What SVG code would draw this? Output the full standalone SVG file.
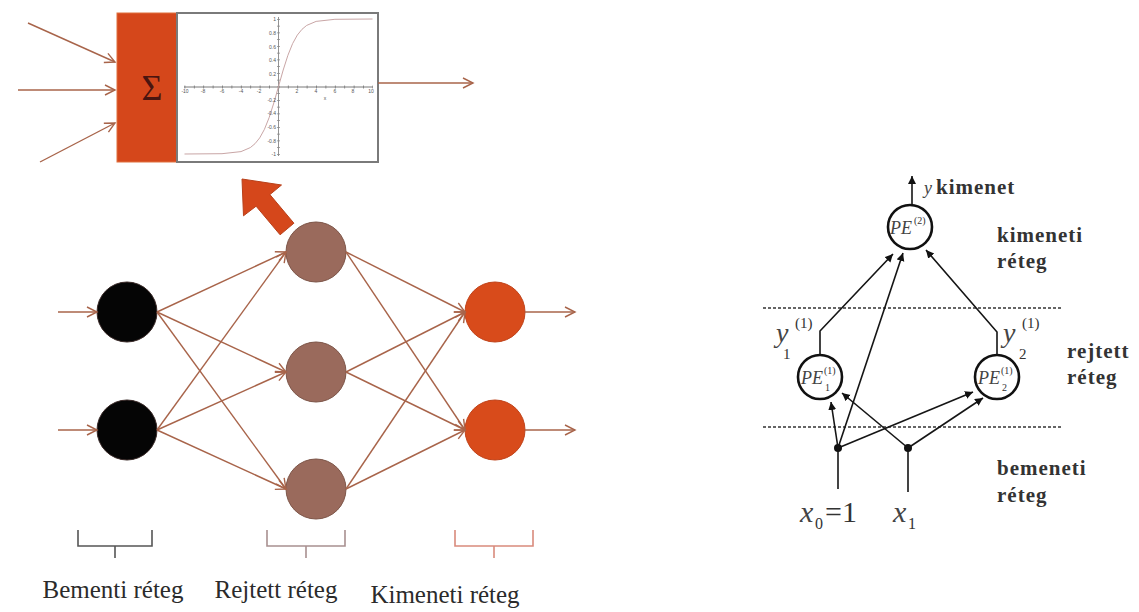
<svg xmlns="http://www.w3.org/2000/svg" width="1139" height="612" viewBox="0 0 1139 612">
  <defs>
    <marker id="open" markerUnits="userSpaceOnUse" markerWidth="14" markerHeight="14" refX="11" refY="6" orient="auto">
      <path d="M1,1 L11,6 L1,11" fill="none" stroke="#a8644a" stroke-width="1.4"/>
    </marker>
    <marker id="tri" markerUnits="userSpaceOnUse" markerWidth="10" markerHeight="10" refX="8" refY="4" orient="auto">
      <path d="M0,0 L8,4 L0,8 Z" fill="#111"/>
    </marker>
    <style>
      .wire { stroke: #a8644a; stroke-width: 1.4; fill: none; marker-end: url(#open); }
      .blk { fill: #050505; stroke: #3a2a28; }
      .hid { fill: #9a6a5c; stroke: #7d5548; }
      .out { fill: #d84b1b; stroke: #c0431a; }
      .bk { fill: none; stroke-width: 1.6; }
      .lbl { font-family: "Liberation Serif", serif; font-size: 25px; fill: #2b2b2b; }
      .tick { font-family: "Liberation Sans", sans-serif; font-size: 5px; fill: #555; }
      .pe { stroke: #111; stroke-width: 2.6; fill: #fff; }
      .ln { stroke: #151515; stroke-width: 1.6; fill: none; }
      .arr { stroke: #151515; stroke-width: 1.6; fill: none; marker-end: url(#tri); }
      .dash { stroke: #333; stroke-width: 1.3; stroke-dasharray: 3 2; }
      .rt { font-family: "Liberation Serif", serif; font-weight: bold; font-size: 21px; fill: #333; letter-spacing: 1px; }
      .it { font-family: "Liberation Serif", serif; font-style: italic; fill: #444; }
      .rm { font-family: "Liberation Serif", serif; fill: #333; }
    </style>
  </defs>

  <rect width="1139" height="612" fill="#fff"/>

  <!-- neuron detail: summation block and activation plot -->
  <g id="neuron-detail">
    <rect x="117" y="13" width="60" height="149" fill="#d5471b" stroke="#e0703f" stroke-width="1"/>
    <text x="152" y="100" text-anchor="middle" font-family="Liberation Serif, serif" font-size="36" fill="#4a1510">Σ</text>
    <rect x="177" y="13" width="201" height="149" fill="#fff" stroke="#7a7a7a" stroke-width="2"/>
    <!-- axes with tick marks -->
    <line x1="184" y1="87" x2="373" y2="87" stroke="#555" stroke-width="0.8"/>
    <line x1="184.5" y1="87" x2="373" y2="87" stroke="#777" stroke-width="3" stroke-dasharray="0.8 8.6"/>
    <line x1="278.5" y1="17" x2="278.5" y2="156" stroke="#777" stroke-width="0.8"/>
    <line x1="278.5" y1="19" x2="278.5" y2="155" stroke="#888" stroke-width="3" stroke-dasharray="0.8 5.95"/>
    <path d="M184.5,154 L222,153.7 L241,151.6 L250.3,147.6 L255,143.7 L259.7,137.9 L264.4,129.4 L269.1,117.7 L273.8,103 L278.5,86.5 L283.2,70 L287.9,55.3 L292.6,43.6 L297.3,35.1 L302,29.3 L306.7,25.4 L316.1,21.4 L334.9,19.3 L372.5,19" fill="none" stroke="#c9a6a6" stroke-width="1"/>
    <g class="tick">
      <text x="185" y="93" text-anchor="middle">-10</text>
      <text x="203" y="93" text-anchor="middle">-8</text>
      <text x="222" y="93" text-anchor="middle">-6</text>
      <text x="241" y="93" text-anchor="middle">-4</text>
      <text x="259" y="93" text-anchor="middle">-2</text>
      <text x="297" y="93" text-anchor="middle">2</text>
      <text x="316" y="93" text-anchor="middle">4</text>
      <text x="335" y="93" text-anchor="middle">6</text>
      <text x="353" y="93" text-anchor="middle">8</text>
      <text x="371" y="93" text-anchor="middle">10</text>
      <text x="325" y="100" text-anchor="middle">x</text>
      <text x="276" y="21" text-anchor="end">1</text>
      <text x="276" y="35" text-anchor="end">0.8</text>
      <text x="276" y="49" text-anchor="end">0.6</text>
      <text x="276" y="62" text-anchor="end">0.4</text>
      <text x="276" y="76" text-anchor="end">0.2</text>
      <text x="276" y="102" text-anchor="end">-0.2</text>
      <text x="276" y="115" text-anchor="end">-0.4</text>
      <text x="276" y="129" text-anchor="end">-0.6</text>
      <text x="276" y="143" text-anchor="end">-0.8</text>
      <text x="276" y="156" text-anchor="end">-1</text>
    </g>
  </g>

  <!-- zoom arrow from hidden neuron to detail -->
  <g id="zoom-arrow">
    <polygon points="242,179 281.5,185 269.9,194.6 293.9,223.2 280.1,234.8 256.1,206.2 243.5,215.8" fill="#d5471b" stroke="#b8401a" stroke-width="1"/>
  </g>

  <!-- network nodes -->
  <g id="in1"><circle cx="127" cy="312" r="30" class="blk"/></g>
  <g id="in2"><circle cx="127" cy="430" r="30" class="blk"/></g>
  <g id="h1"><circle cx="316" cy="252" r="30" class="hid"/></g>
  <g id="h2"><circle cx="316" cy="372" r="30" class="hid"/></g>
  <g id="h3"><circle cx="316" cy="489" r="30" class="hid"/></g>
  <g id="o1"><circle cx="495" cy="312" r="30" class="out"/></g>
  <g id="o2"><circle cx="495" cy="430" r="30" class="out"/></g>

  <!-- network connectors -->
  <g id="connectors">
    <line class="wire" x1="28" y1="23" x2="115" y2="62"/>
    <line class="wire" x1="18" y1="90" x2="115" y2="90"/>
    <line class="wire" x1="40" y1="162" x2="115" y2="123"/>
    <line class="wire" x1="378" y1="83" x2="473" y2="83"/>

    <line class="wire" x1="58" y1="312" x2="97" y2="312"/>
    <line class="wire" x1="58" y1="430" x2="97" y2="430"/>
    <line class="wire" x1="157" y1="312" x2="286" y2="252"/>
    <line class="wire" x1="157" y1="312" x2="286" y2="372"/>
    <line class="wire" x1="157" y1="312" x2="286" y2="489"/>
    <line class="wire" x1="157" y1="430" x2="286" y2="252"/>
    <line class="wire" x1="157" y1="430" x2="286" y2="372"/>
    <line class="wire" x1="157" y1="430" x2="286" y2="489"/>
    <line class="wire" x1="346" y1="252" x2="465" y2="312"/>
    <line class="wire" x1="346" y1="252" x2="465" y2="430"/>
    <line class="wire" x1="346" y1="372" x2="465" y2="312"/>
    <line class="wire" x1="346" y1="372" x2="465" y2="430"/>
    <line class="wire" x1="346" y1="489" x2="465" y2="312"/>
    <line class="wire" x1="346" y1="489" x2="465" y2="430"/>
    <line class="wire" x1="525" y1="312" x2="575" y2="312"/>
    <line class="wire" x1="525" y1="430" x2="575" y2="430"/>
  </g>

  <!-- layer brackets and captions -->
  <g id="layer-labels">
    <path class="bk" stroke="#555" d="M78,530 V546 H152 V530 M115,546 V558"/>
    <path class="bk" stroke="#a89090" d="M267,530 V546 H345 V530 M306,546 V558"/>
    <path class="bk" stroke="#d98a7c" d="M455,530 V546 H533 V530 M494,546 V558"/>
    <text class="lbl" x="113" y="598" text-anchor="middle">Bementi réteg</text>
    <text class="lbl" x="276" y="598" text-anchor="middle">Rejtett réteg</text>
    <text class="lbl" x="445" y="603" text-anchor="middle">Kimeneti réteg</text>
  </g>

  <!-- two-layer perceptron schematic -->
  <g id="layer-bounds">
    <line class="dash" x1="763" y1="308" x2="1062" y2="308"/>
    <line class="dash" x1="763" y1="427" x2="1062" y2="427"/>
  </g>

  <g id="pe-out">
    <circle cx="910" cy="227" r="22" class="pe"/>
    <text class="it" x="890" y="234" font-size="18">PE</text>
    <text class="rm" x="914" y="224" font-size="10">(2)</text>
  </g>
  <g id="pe-h1">
    <circle cx="820" cy="377" r="22" class="pe"/>
    <text class="it" x="801" y="384" font-size="18">PE</text>
    <text class="rm" x="824" y="374" font-size="10">(1)</text>
    <text class="rm" x="825" y="391" font-size="10">1</text>
  </g>
  <g id="pe-h2">
    <circle cx="997" cy="377" r="22" class="pe"/>
    <text class="it" x="978" y="384" font-size="18">PE</text>
    <text class="rm" x="1001" y="374" font-size="10">(1)</text>
    <text class="rm" x="1002" y="391" font-size="10">2</text>
  </g>
  <g id="x0">
    <circle cx="838" cy="448" r="4" fill="#111"/>
  </g>
  <g id="x1">
    <circle cx="908" cy="448" r="4" fill="#111"/>
  </g>

  <g id="schematic-connectors">
    <line class="arr" x1="912" y1="205" x2="912" y2="176"/>
    <polyline class="arr" points="820,355 820,331 893,254"/>
    <polyline class="arr" points="997,355 997,332 926,250"/>
    <line class="arr" x1="838" y1="448" x2="903" y2="253"/>
    <line class="arr" x1="838" y1="448" x2="831" y2="402"/>
    <line class="arr" x1="838" y1="448" x2="973" y2="392"/>
    <line class="arr" x1="908" y1="448" x2="842" y2="393"/>
    <line class="arr" x1="908" y1="448" x2="983" y2="398"/>
    <line class="ln" x1="838" y1="448" x2="838" y2="489"/>
    <line class="ln" x1="908" y1="448" x2="908" y2="492"/>
  </g>

  <!-- schematic labels -->
  <g id="schematic-labels">
    <text class="it" x="924" y="194" font-size="18">y</text>
    <text class="rt" x="936" y="194" font-size="19">kimenet</text>
    <text class="rt" x="997" y="242">kimeneti</text>
    <text class="rt" x="997" y="268">réteg</text>
    <text class="rt" x="1067" y="358">rejtett</text>
    <text class="rt" x="1067" y="384">réteg</text>
    <text class="rt" x="997" y="475">bemeneti</text>
    <text class="rt" x="997" y="502">réteg</text>

    <text class="it" x="776" y="342" font-size="28">y</text>
    <text class="rm" x="795" y="328" font-size="15">(1)</text>
    <text class="rm" x="783" y="359" font-size="15">1</text>
    <text class="it" x="1003" y="342" font-size="28">y</text>
    <text class="rm" x="1022" y="328" font-size="15">(1)</text>
    <text class="rm" x="1019" y="359" font-size="15">2</text>

    <text class="it" x="800" y="522" font-size="30">x</text>
    <text class="rm" x="815" y="529" font-size="16">0</text>
    <text class="rm" x="825" y="522" font-size="30">=1</text>
    <text class="it" x="893" y="522" font-size="30">x</text>
    <text class="rm" x="908" y="529" font-size="16">1</text>
  </g>
</svg>
